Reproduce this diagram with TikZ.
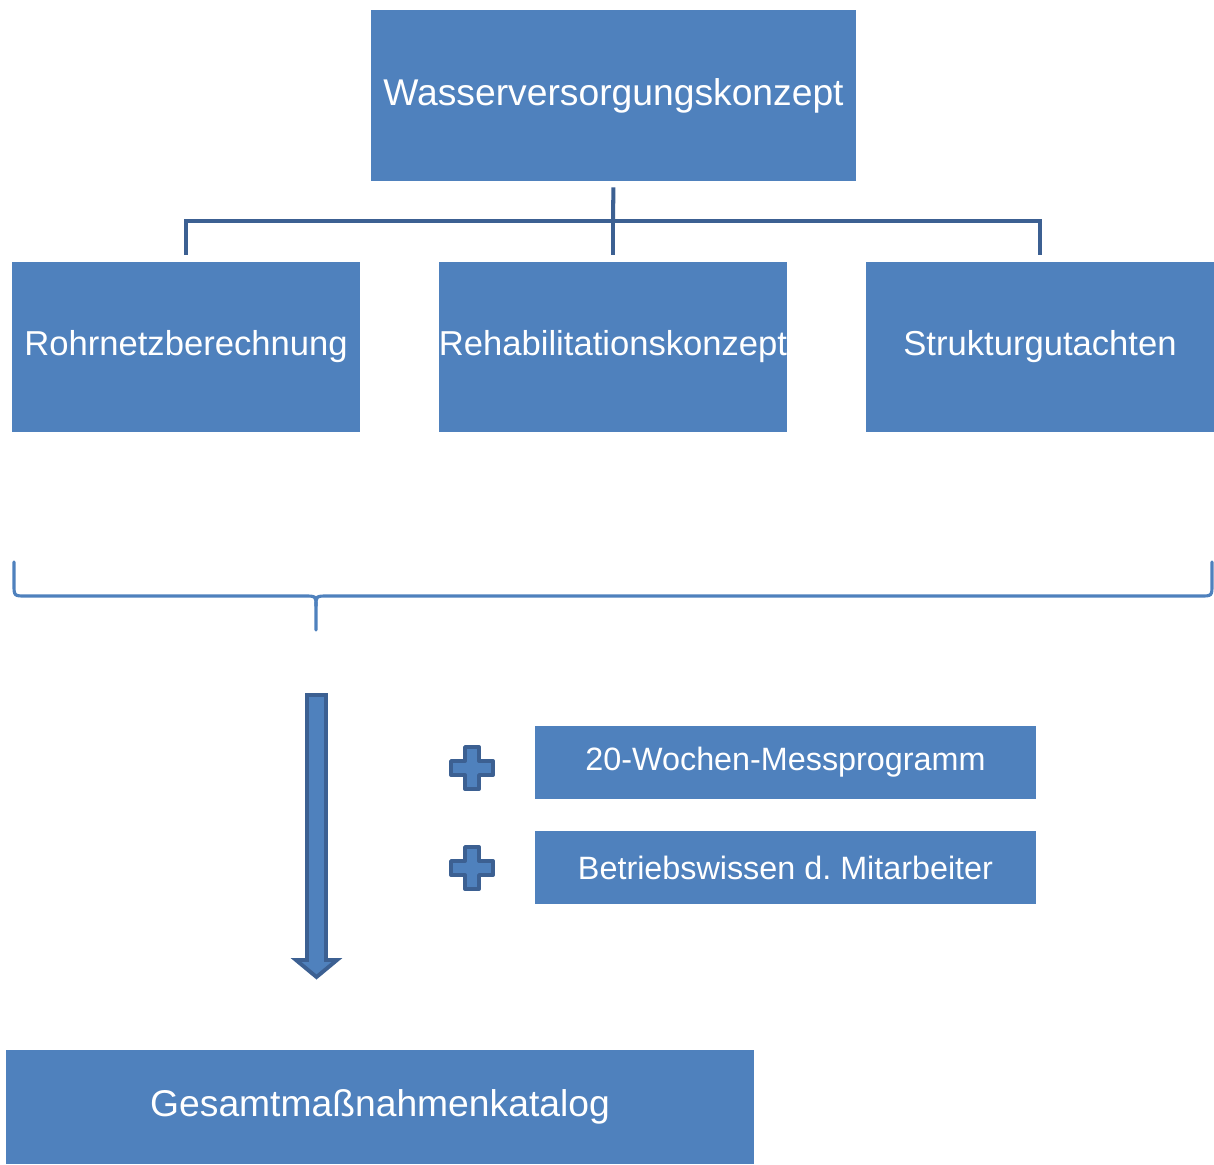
\documentclass[tikz,border=0pt]{standalone}
\usepackage{fontspec}
\setmainfont{Liberation Sans}
\definecolor{boxblue}{RGB}{79,129,189}
\definecolor{lineblue}{RGB}{60,96,146}
\tikzset{
  big/.style = {fill=boxblue, text=white, font=\fontsize{21.2}{24}\selectfont, inner sep=0pt},
  mid/.style = {fill=boxblue, text=white, font=\fontsize{19.7}{23}\selectfont, inner sep=0pt,
    minimum width=6.96cm, minimum height=3.4cm},
  small/.style = {fill=boxblue, text=white, font=\fontsize{18.4}{21}\selectfont, inner sep=0pt,
    minimum width=10.02cm, minimum height=1.46cm},
  conn/.style = {draw=lineblue, line width=2.3pt},
  plus/.style = {fill=boxblue, draw=lineblue, line width=2.2pt, line join=round},
}
\begin{document}
\begin{tikzpicture}[x=0.02cm, y=-0.02cm]
\useasboundingbox (0,0) rectangle (1214,1164);
% top and the three parts
\node[big, minimum width=9.7cm, minimum height=3.42cm] (top) at (613.5,95.5) {Wasserversorgungskonzept};
\node[mid] (rohr) at (186,347) {Rohrnetzberechnung};
\node[mid] (reha) at (613,347) {Rehabilitationskonzept};
\node[mid] (struk) at (1040,347) {Strukturgutachten};
% tree lines
\coordinate (fork) at (613,221);
\draw[conn, shorten <=0.12cm] (top.south) -- (fork);
\draw[conn, shorten >=0.14cm] (fork) -- (reha.north);
\draw[conn, shorten >=0.14cm, line join=miter] (fork) -| (rohr.north);
\draw[conn, shorten >=0.14cm, line join=miter] (fork) -| (struk.north);
% brace
\coordinate (bl) at (14,562);
\coordinate (br) at (1212,562);
\coordinate (btip) at (316,630);
\draw[boxblue, line width=1.8pt, line cap=round]
  (bl) -- (14,584) .. controls (14,596) .. (26,596) -- (304,596)
  .. controls (316,596) .. (316,606) -- (btip);
\draw[boxblue, line width=1.8pt, line cap=round]
  (316,606) .. controls (316,596) .. (328,596) -- (1200,596)
  .. controls (1212,596) .. (1212,584) -- (br);
% arrow down
\filldraw[plus, line join=miter] (307,695) -- (326,695) -- (326,960) -- (337,960)
  -- (316.5,977) -- (296,960) -- (307,960) -- cycle;
% extra inputs
\node[small] (mess) at (785.5,762.5) {20-Wochen-Messprogramm};
\node[small] (wissen) at (785.5,867.5) {Betriebswissen d.\ Mitarbeiter};
\foreach \py in {768,868} {
  \filldraw[plus] (465,\py-21) -- (479,\py-21) -- (479,\py-7) -- (493,\py-7) -- (493,\py+7)
    -- (479,\py+7) -- (479,\py+21) -- (465,\py+21) -- (465,\py+7) -- (451,\py+7)
    -- (451,\py-7) -- (465,\py-7) -- cycle;
}
% result
\node[big, minimum width=14.96cm, minimum height=2.28cm] (gesamt) at (380,1107) {Gesamtmaßnahmenkatalog};
\end{tikzpicture}
\end{document}
